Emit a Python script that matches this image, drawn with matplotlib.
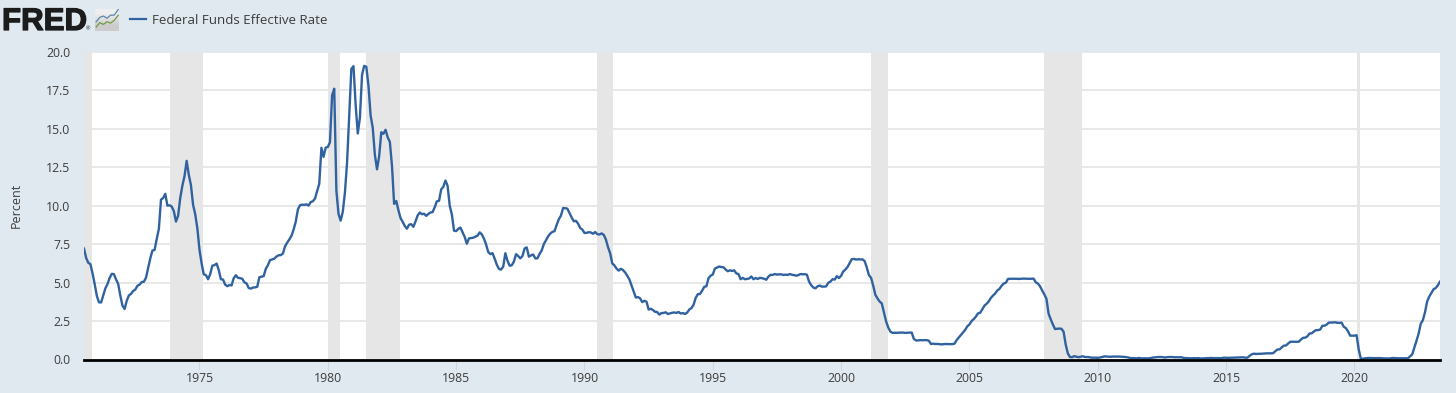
"""FRED style chart of the effective federal funds rate."""
import matplotlib
matplotlib.use("Agg")
import matplotlib.patheffects as pe
import matplotlib.pyplot as plt
import numpy as np
from matplotlib.lines import Line2D

plt.rcParams["font.family"] = ["Open Sans", "DejaVu Sans"]

W, H = 1456, 393
BG = "#e1e9f0"
GRID = "#e6e6e6"
LINE = "#2f629f"
TEXT = "#3c3c3c"

SERIES_NAME = "Federal Funds Effective Rate"
Y_LABEL = "Percent"
START_YEAR = 1970.5  # first monthly value is July 1970

rate_1970 = [7.21, 6.61, 6.29, 6.20, 5.60, 4.90]
rate_1971 = [4.14, 3.72, 3.71, 4.16, 4.63, 4.91, 5.31, 5.57, 5.55, 5.20, 4.91, 4.14]
rate_1972 = [3.50, 3.29, 3.83, 4.17, 4.27, 4.46, 4.55, 4.80, 4.87, 5.04, 5.06, 5.33]
rate_1973 = [5.94, 6.58, 7.09, 7.12, 7.84, 8.49, 10.40, 10.50, 10.78, 10.01, 10.03, 9.95]
rate_1974 = [9.65, 8.97, 9.35, 10.51, 11.31, 11.93, 12.92, 12.01, 11.34, 10.06, 9.45, 8.53]
rate_1975 = [7.13, 6.24, 5.54, 5.49, 5.22, 5.55, 6.10, 6.14, 6.24, 5.82, 5.22, 5.20]
rate_1976 = [4.87, 4.77, 4.84, 4.82, 5.29, 5.48, 5.31, 5.29, 5.25, 5.02, 4.95, 4.65]
rate_1977 = [4.61, 4.68, 4.69, 4.73, 5.35, 5.39, 5.42, 5.90, 6.14, 6.47, 6.51, 6.56]
rate_1978 = [6.70, 6.78, 6.79, 6.89, 7.36, 7.60, 7.81, 8.04, 8.45, 8.96, 9.76, 10.03]
rate_1979 = [10.07, 10.06, 10.09, 10.01, 10.24, 10.29, 10.47, 10.94, 11.43, 13.77, 13.18, 13.78]
rate_1980 = [13.82, 14.13, 17.19, 17.61, 10.98, 9.47, 9.03, 9.61, 10.87, 12.81, 15.85, 18.90]
rate_1981 = [19.08, 16.57, 14.70, 15.72, 18.52, 19.10, 19.04, 17.82, 15.87, 15.08, 13.31, 12.37]
rate_1982 = [13.22, 14.78, 14.68, 14.94, 14.45, 14.15, 12.59, 10.12, 10.31, 9.71, 9.20, 8.95]
rate_1983 = [8.68, 8.51, 8.77, 8.80, 8.63, 8.98, 9.37, 9.56, 9.45, 9.48, 9.34, 9.47]
rate_1984 = [9.56, 9.59, 9.91, 10.29, 10.32, 11.06, 11.23, 11.64, 11.30, 9.99, 9.43, 8.38]
rate_1985 = [8.35, 8.50, 8.58, 8.27, 7.97, 7.53, 7.88, 7.90, 7.92, 7.99, 8.05, 8.27]
rate_1986 = [8.14, 7.86, 7.48, 6.99, 6.85, 6.92, 6.56, 6.17, 5.89, 5.85, 6.04, 6.91]
rate_1987 = [6.43, 6.10, 6.13, 6.37, 6.85, 6.73, 6.58, 6.73, 7.22, 7.29, 6.69, 6.77]
rate_1988 = [6.83, 6.58, 6.58, 6.87, 7.09, 7.51, 7.75, 8.01, 8.19, 8.30, 8.35, 8.76]
rate_1989 = [9.12, 9.36, 9.85, 9.84, 9.81, 9.53, 9.24, 8.99, 9.02, 8.84, 8.55, 8.45]
rate_1990 = [8.23, 8.24, 8.28, 8.26, 8.18, 8.29, 8.15, 8.13, 8.20, 8.11, 7.81, 7.31]
rate_1991 = [6.91, 6.25, 6.12, 5.91, 5.78, 5.90, 5.82, 5.66, 5.45, 5.21, 4.81, 4.43]
rate_1992 = [4.03, 4.06, 3.98, 3.73, 3.82, 3.76, 3.25, 3.30, 3.22, 3.10, 3.09, 2.92]
rate_1993 = [3.02, 3.03, 3.07, 2.96, 3.00, 3.04, 3.06, 3.03, 3.09, 2.99, 3.02, 2.96]
rate_1994 = [3.05, 3.25, 3.34, 3.56, 4.01, 4.25, 4.26, 4.47, 4.73, 4.76, 5.29, 5.45]
rate_1995 = [5.53, 5.92, 5.98, 6.05, 6.01, 6.00, 5.85, 5.74, 5.80, 5.76, 5.80, 5.60]
rate_1996 = [5.56, 5.22, 5.31, 5.22, 5.24, 5.27, 5.40, 5.22, 5.30, 5.24, 5.31, 5.29]
rate_1997 = [5.25, 5.19, 5.39, 5.51, 5.50, 5.56, 5.52, 5.54, 5.54, 5.50, 5.52, 5.50]
rate_1998 = [5.56, 5.51, 5.49, 5.45, 5.49, 5.56, 5.54, 5.55, 5.51, 5.07, 4.83, 4.68]
rate_1999 = [4.63, 4.76, 4.81, 4.74, 4.74, 4.76, 4.99, 5.07, 5.22, 5.20, 5.42, 5.30]
rate_2000 = [5.45, 5.73, 5.85, 6.02, 6.27, 6.53, 6.54, 6.50, 6.52, 6.51, 6.51, 6.40]
rate_2001 = [5.98, 5.49, 5.31, 4.80, 4.21, 3.97, 3.77, 3.65, 3.07, 2.49, 2.09, 1.82]
rate_2002 = [1.73, 1.74, 1.73, 1.75, 1.75, 1.75, 1.73, 1.74, 1.75, 1.75, 1.34, 1.24]
rate_2003 = [1.24, 1.26, 1.25, 1.26, 1.26, 1.22, 1.01, 1.03, 1.01, 1.01, 1.00, 0.98]
rate_2004 = [1.00, 1.01, 1.00, 1.00, 1.00, 1.03, 1.26, 1.43, 1.61, 1.76, 1.93, 2.16]
rate_2005 = [2.28, 2.50, 2.63, 2.79, 3.00, 3.04, 3.26, 3.50, 3.62, 3.78, 4.00, 4.16]
rate_2006 = [4.29, 4.49, 4.59, 4.79, 4.94, 4.99, 5.24, 5.25, 5.25, 5.25, 5.25, 5.24]
rate_2007 = [5.25, 5.26, 5.26, 5.25, 5.25, 5.25, 5.26, 5.02, 4.94, 4.76, 4.49, 4.24]
rate_2008 = [3.94, 2.98, 2.61, 2.28, 1.98, 2.00, 2.01, 2.00, 1.81, 0.97, 0.39, 0.16]
rate_2009 = [0.15, 0.22, 0.18, 0.15, 0.18, 0.21, 0.16, 0.16, 0.15, 0.12, 0.12, 0.12]
rate_2010 = [0.11, 0.13, 0.16, 0.20, 0.20, 0.18, 0.18, 0.19, 0.19, 0.19, 0.19, 0.18]
rate_2011 = [0.17, 0.16, 0.14, 0.10, 0.09, 0.09, 0.07, 0.10, 0.08, 0.07, 0.08, 0.07]
rate_2012 = [0.08, 0.10, 0.13, 0.14, 0.16, 0.16, 0.16, 0.13, 0.14, 0.16, 0.16, 0.16]
rate_2013 = [0.14, 0.15, 0.14, 0.15, 0.11, 0.09, 0.09, 0.08, 0.08, 0.09, 0.08, 0.09]
rate_2014 = [0.07, 0.07, 0.08, 0.09, 0.09, 0.10, 0.09, 0.09, 0.09, 0.09, 0.09, 0.12]
rate_2015 = [0.11, 0.11, 0.11, 0.12, 0.12, 0.13, 0.13, 0.14, 0.14, 0.12, 0.12, 0.24]
rate_2016 = [0.34, 0.38, 0.36, 0.37, 0.37, 0.38, 0.39, 0.40, 0.40, 0.40, 0.41, 0.54]
rate_2017 = [0.65, 0.66, 0.79, 0.90, 0.91, 1.04, 1.15, 1.16, 1.15, 1.15, 1.16, 1.30]
rate_2018 = [1.41, 1.42, 1.51, 1.69, 1.70, 1.82, 1.91, 1.91, 1.95, 2.19, 2.20, 2.27]
rate_2019 = [2.40, 2.40, 2.41, 2.42, 2.39, 2.38, 2.40, 2.13, 2.04, 1.83, 1.55, 1.55]
rate_2020 = [1.55, 1.58, 0.65, 0.05, 0.05, 0.08, 0.09, 0.10, 0.09, 0.09, 0.09, 0.09]
rate_2021 = [0.09, 0.08, 0.07, 0.07, 0.06, 0.08, 0.10, 0.09, 0.08, 0.08, 0.08, 0.08]
rate_2022 = [0.08, 0.08, 0.20, 0.33, 0.77, 1.21, 1.68, 2.33, 2.56, 3.08, 3.78, 4.10]
rate_2023 = [4.33, 4.57, 4.65, 4.83, 5.06]

rates = (
    rate_1970 + rate_1971 + rate_1972 + rate_1973 + rate_1974 + rate_1975 + rate_1976
    + rate_1977 + rate_1978 + rate_1979 + rate_1980 + rate_1981 + rate_1982 + rate_1983
    + rate_1984 + rate_1985 + rate_1986 + rate_1987 + rate_1988 + rate_1989 + rate_1990
    + rate_1991 + rate_1992 + rate_1993 + rate_1994 + rate_1995 + rate_1996 + rate_1997
    + rate_1998 + rate_1999 + rate_2000 + rate_2001 + rate_2002 + rate_2003 + rate_2004
    + rate_2005 + rate_2006 + rate_2007 + rate_2008 + rate_2009 + rate_2010 + rate_2011
    + rate_2012 + rate_2013 + rate_2014 + rate_2015 + rate_2016 + rate_2017 + rate_2018
    + rate_2019 + rate_2020 + rate_2021 + rate_2022 + rate_2023
)

# recession bands, as decimal years
recession_starts = [1969.92, 1973.85, 1980.0, 1981.5, 1990.5, 2001.15, 2007.92, 2020.08]
recession_ends = [1970.83, 1975.12, 1980.47, 1982.83, 1991.12, 2001.83, 2009.38, 2020.2]

x_ticks = [1975, 1980, 1985, 1990, 1995, 2000, 2005, 2010, 2015, 2020]
y_ticks = [0, 2.5, 5, 7.5, 10, 12.5, 15, 17.5, 20]

# logo sparkline shapes, in icon units
icon_x = [0.05, 0.2, 0.35, 0.5, 0.65, 0.8, 0.97]
icon_blue = [0.42, 0.62, 0.68, 0.58, 0.72, 0.72, 0.98]
icon_green = [0.18, 0.38, 0.3, 0.42, 0.36, 0.48, 0.72]


def px_rect(left, top, right, bottom):
    """Figure-fraction rect from pixel edges measured from the top-left."""
    return [left / W, 1 - bottom / H, (right - left) / W, (bottom - top) / H]


def draw_header(fig):
    logo = fig.text(2 / W, 1 - 22 / H, "FRED", fontsize=22.5, fontweight="bold", color="#1c1c1c",
                    family=["Liberation Sans", "DejaVu Sans"], va="center", ha="left")
    logo.set_path_effects([pe.withStroke(linewidth=0.9, foreground="#1c1c1c")])
    fig.text(88.5 / W, 1 - 29 / H, "®", fontsize=4, color="#1c1c1c", va="center", ha="center")

    icon = fig.add_axes(px_rect(95, 9, 119, 31))
    icon.imshow([[0.93], [0.8]], cmap="gray", vmin=0, vmax=1, aspect="auto",
                extent=(0, 1, 0, 1), interpolation="bilinear")
    icon.set_xlim(0, 1)
    icon.set_ylim(0, 1)
    icon.axis("off")
    icon.plot(icon_x, icon_blue, color="#5b86ad", lw=0.9)
    icon.plot(icon_x, icon_green, color="#6f9a45", lw=0.9)

    fig.add_artist(Line2D([130 / W, 146 / W], [1 - 19 / H] * 2, color=LINE, lw=1.6))
    fig.text(152 / W, 1 - 20.5 / H, SERIES_NAME, fontsize=9.6, color=TEXT, va="center", ha="left")


def main():
    months = START_YEAR + np.arange(len(rates)) / 12

    fig = plt.figure(figsize=(W / 100, H / 100), dpi=100, facecolor=BG)
    ax = fig.add_axes(px_rect(84, 52, 1440, 359.5))
    ax.set_facecolor("white")
    ax.set_xlim(START_YEAR, months[-1])
    ax.set_ylim(0, 20)

    for start, end in zip(recession_starts, recession_ends):
        ax.axvspan(start, end, color=GRID, lw=0, zorder=2)
    ax.grid(axis="y", color=GRID, lw=1.3, zorder=1)
    ax.set_axisbelow(True)
    ax.plot(months, rates, color=LINE, lw=1.7, zorder=3, solid_joinstyle="round")

    for side in ("top", "left", "right"):
        ax.spines[side].set_visible(False)
    ax.spines["bottom"].set_color("black")
    ax.spines["bottom"].set_linewidth(2)
    ax.spines["bottom"].set_zorder(4)

    ax.set_xticks(x_ticks)
    ax.set_xticklabels([str(y) for y in x_ticks])
    ax.tick_params(axis="x", length=7, width=0.8, color="#ccd6eb", labelsize=8.8,
                   labelcolor=TEXT, pad=2)
    ax.set_yticks(y_ticks)
    ax.set_yticklabels([f"{v:.1f}" for v in y_ticks])
    ax.tick_params(axis="y", length=0, labelsize=8.8, labelcolor=TEXT, pad=10)
    ax.set_ylabel(Y_LABEL, fontsize=9, color=TEXT)
    ax.yaxis.set_label_coords((23 - 84) / (1440 - 84), 0.5)

    draw_header(fig)
    fig.savefig("out.png", dpi=100, facecolor=BG)
    plt.close(fig)


if __name__ == "__main__":
    main()
